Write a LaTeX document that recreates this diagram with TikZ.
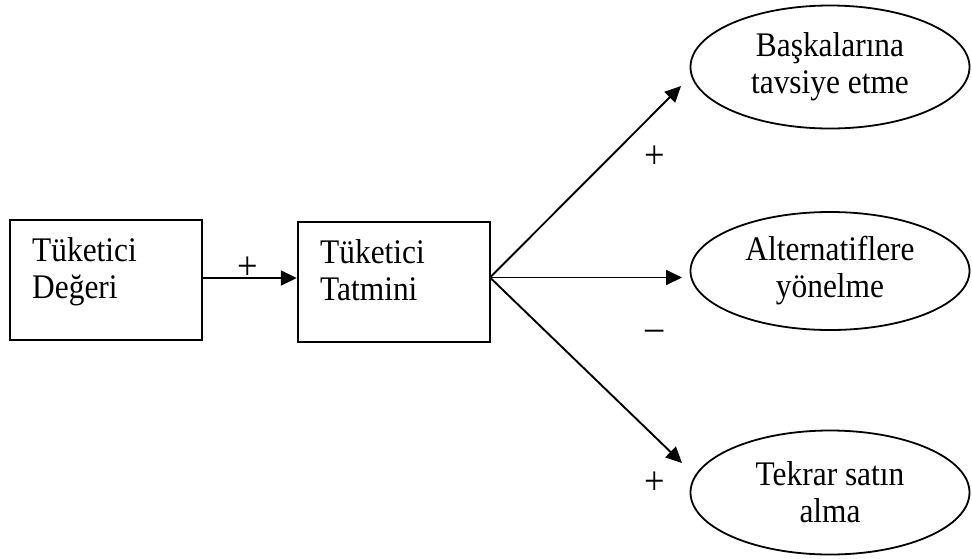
\documentclass[tikz,border=0pt]{standalone}
\usepackage{fontspec}
\setmainfont{Liberation Serif}[FakeStretch=0.91]
\usetikzlibrary{arrows.meta,shapes.geometric}
\begin{document}
\begin{tikzpicture}[x=1pt,y=-1pt,
  every node/.style={font=\fontsize{34.5}{37}\selectfont},
  boxnode/.style={draw,line width=2.4pt,minimum width=192pt,minimum height=120pt,inner sep=0pt},
  ovalnode/.style={draw,ellipse,line width=1.8pt,minimum width=279pt,inner sep=0pt,align=center},
  boxtext/.style={anchor=north west,inner sep=0pt,align=left},
  conn/.style={line width=1.9pt,-{Triangle[length=16pt,width=15pt]}},
  sign/.style={inner sep=0pt,font=\fontsize{40}{40}\selectfont}]
\useasboundingbox (0,0) rectangle (972,558);
\node[boxnode] (b1) at (106,280) {};
\node[boxnode] (b2) at (394,282) {};
\node[boxtext] (t1) at (32,237.5) {Tüketici\\Değeri};
\node[boxtext] (t2) at (320,239.5) {Tüketici\\Tatmini};
\node[ovalnode,minimum height=123pt] (e1) at (830,67) {Başkalarına\\tavsiye etme};
\node[ovalnode,minimum height=118pt] (e2) at (830,271) {Alternatiflere\\yönelme};
\node[ovalnode,minimum height=124pt] (e3) at (830,492.5) {Tekrar satın\\alma};
\coordinate (o) at (490,277.5);
\coordinate (a1) at (681,86);
\coordinate (a2) at (682,277.5);
\coordinate (a3) at (682,463);
\draw[conn] (b1.east |- 0,278) -- (b2.west |- 0,278);
\draw[conn] (o) -- (a1);
\draw[conn] (o) -- (a2);
\draw[conn] (o) -- (a3);
\node[sign] (p0) at (248,268) {+};
\node[sign] (p1) at (655,157) {+};
\node[sign] (m2) at (655,335) {–};
\node[sign] (p3) at (655,483) {+};
\end{tikzpicture}
\end{document}
